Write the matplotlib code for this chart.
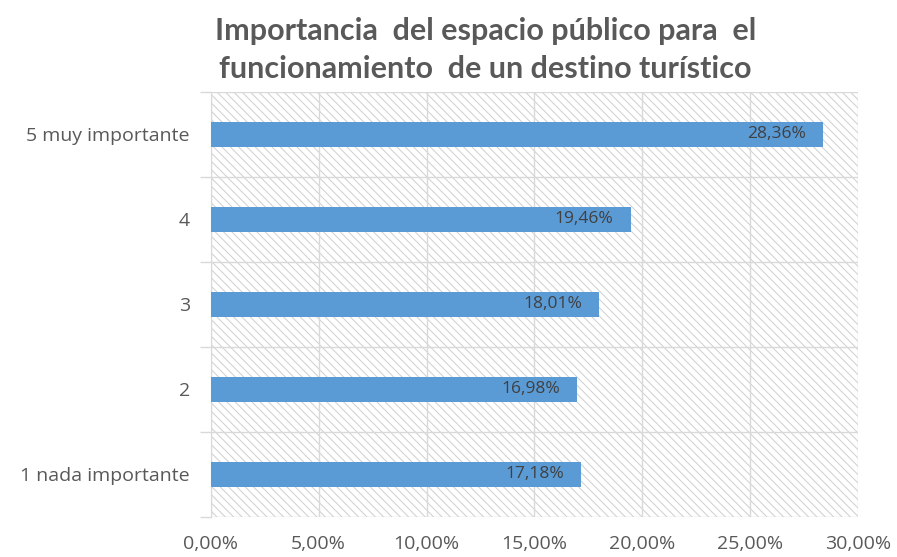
import numpy as np
import matplotlib.pyplot as plt
from matplotlib.ticker import FuncFormatter

categorias = ['1 nada importante', '2', '3', '4', '5 muy importante']
porcentajes = [17.18, 16.98, 18.01, 19.46, 28.36]
xticks = [0, 5, 10, 15, 20, 25, 30]

azul = '#5B9BD5'
gris_grid = '#d9d9d9'
gris_txt = '#595959'

plt.rcParams['font.family'] = ['Open Sans', 'DejaVu Sans']
plt.rcParams['hatch.linewidth'] = 0.7

fig = plt.figure(figsize=(8.97, 5.57), dpi=100)
ax = fig.add_axes([0.235, 0.0718, 0.7215, 0.7632])

y = np.arange(len(categorias))

# fondo rayado
ax.axvspan(0, 30, facecolor='white', edgecolor='#cfcfcf', hatch='\\\\\\\\', lw=0, zorder=0)

ax.barh(y, porcentajes, height=0.29, color=azul, zorder=3)

for yi, v in zip(y, porcentajes):
    etiqueta = ('%.2f%%' % v).replace('.', ',')
    ax.annotate(etiqueta, (v, yi), xytext=(-17, 0), textcoords='offset pixels',
                ha='right', va='center', fontsize=12.5, color='#404040', zorder=4)

ax.set_xlim(0, 30)
ax.set_ylim(-0.5, len(categorias) - 0.5)
ax.set_xticks(xticks)
ax.xaxis.set_major_formatter(FuncFormatter(lambda v, p: ('%.2f%%' % v).replace('.', ',')))
ax.set_yticks(y)
ax.set_yticklabels(categorias)
ax.set_yticks(np.arange(-0.5, len(categorias)), minor=True)

ax.grid(axis='x', color=gris_grid, lw=1, zorder=1)
ax.grid(axis='y', which='minor', color=gris_grid, lw=1, zorder=1)
ax.grid(axis='y', which='major', visible=False)

ax.tick_params(axis='x', length=0, pad=13, labelsize=14, labelcolor=gris_txt)
ax.tick_params(axis='y', which='major', length=0, pad=15, labelsize=14, labelcolor=gris_txt)
ax.tick_params(axis='y', which='minor', length=8, color=gris_grid, width=1)

for s in ['top', 'right', 'bottom']:
    ax.spines[s].set_visible(False)
ax.spines['left'].set_color(gris_grid)

titulo = dict(ha='center', va='center', fontsize=22, fontweight='bold', color=gris_txt,
              family=['Lato', 'DejaVu Sans'])
fig.text(0.541, 0.945, 'Importancia  del espacio público para  el', **titulo)
fig.text(0.541, 0.877, 'funcionamiento  de un destino turístico', **titulo)

fig.savefig('out.png', dpi=100)
